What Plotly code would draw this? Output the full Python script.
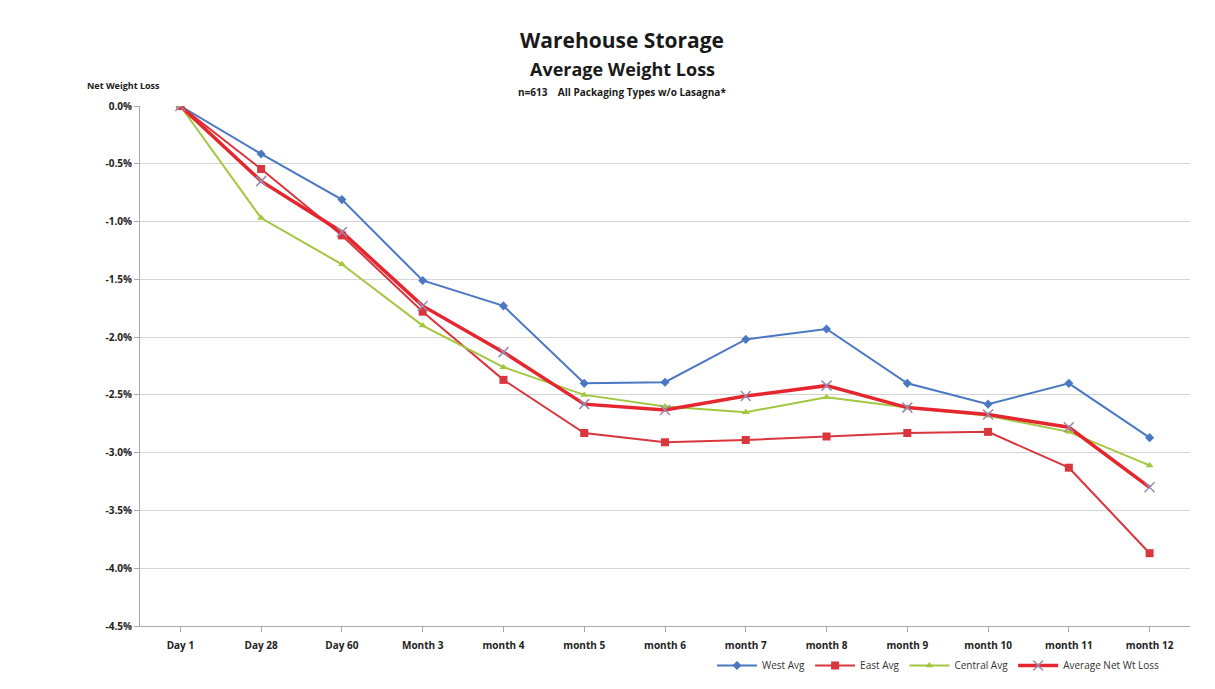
import plotly.graph_objects as go

categories = ["Day 1", "Day 28", "Day 60", "Month 3", "month 4", "month 5", "month 6",
              "month 7", "month 8", "month 9", "month 10", "month 11", "month 12"]
west_avg = [0.0, -0.415, -0.81, -1.51, -1.73, -2.40, -2.39, -2.02, -1.93, -2.40, -2.58, -2.40, -2.87]
east_avg = [0.0, -0.545, -1.12, -1.78, -2.37, -2.83, -2.91, -2.89, -2.86, -2.83, -2.82, -3.13, -3.87]
central_avg = [0.0, -0.97, -1.37, -1.90, -2.26, -2.50, -2.60, -2.65, -2.52, -2.61, -2.68, -2.82, -3.11]
average_net = [0.0, -0.65, -1.09, -1.73, -2.13, -2.58, -2.63, -2.51, -2.42, -2.61, -2.67, -2.78, -3.30]

y_ticks = [0, -0.5, -1.0, -1.5, -2.0, -2.5, -3.0, -3.5, -4.0, -4.5]
y_tick_text = ["<b>%.1f%%</b>" % v for v in y_ticks]
x_tick_text = ["<b>%s</b>" % c for c in categories]

FONT = "Open Sans"

# page and plot-area geometry in pixels
W, H = 1215, 689
PL, PR, PT, PB = 140, 25, 106, 63
PW, PH = W - PL - PR, H - PT - PB


def px_x(x):
    return (x - PL) / PW


def px_y(y):
    return (H - PB - y) / PH


fig = go.Figure()
fig.add_trace(go.Scatter(
    x=categories, y=west_avg, name="West Avg", mode="lines+markers",
    line=dict(color="#4A78C2", width=2),
    marker=dict(symbol="diamond", size=7, color="#4A78C2")))
fig.add_trace(go.Scatter(
    x=categories, y=east_avg, name="East Avg", mode="lines+markers",
    line=dict(color="#D9363E", width=2),
    marker=dict(symbol="square", size=8, color="#D9363E")))
fig.add_trace(go.Scatter(
    x=categories, y=central_avg, name="Central Avg", mode="lines+markers",
    line=dict(color="#A3C73F", width=2),
    marker=dict(symbol="triangle-up", size=7, color="#A3C73F")))
fig.add_trace(go.Scatter(
    x=categories, y=average_net, name="Average Net Wt Loss", mode="lines+markers",
    line=dict(color="#E5262E", width=3.5),
    marker=dict(symbol="x-thin", size=10, line=dict(color="#9A8AAE", width=1.5), color="#9A8AAE")))

fig.update_layout(
    width=W, height=H,
    paper_bgcolor="white", plot_bgcolor="white",
    margin=dict(l=PL, r=PR, t=PT, b=PB, autoexpand=False),
    font=dict(family=FONT, size=10, color="#222"),
    showlegend=True,
    legend=dict(orientation="h", x=712 / W, y=1 - 651 / H, xref="container", yref="container",
                xanchor="left", yanchor="top",
                font=dict(size=10, color="#333"), itemwidth=40, tracegroupgap=0,
                bgcolor="rgba(0,0,0,0)"),
    xaxis=dict(type="category", showgrid=False, showline=True, linecolor="#A8A8A8",
               ticks="outside", ticklen=5, tickcolor="#A8A8A8",
               tickvals=categories, ticktext=x_tick_text, ticklabelstandoff=5,
               tickfont=dict(size=10, family=FONT, color="#222"),
               range=[-0.5, 12.5]),
    yaxis=dict(range=[-4.5, 0], tickvals=y_ticks, ticktext=y_tick_text,
               showgrid=True, gridcolor="#D4D4D4", gridwidth=1,
               showline=True, linecolor="#A8A8A8", ticks="outside", ticklen=5,
               tickcolor="#A8A8A8", zeroline=False,
               tickfont=dict(size=10, family=FONT, color="#222")),
    annotations=[
        dict(text="<b>Warehouse Storage</b>", x=px_x(622), y=px_y(40),
             xref="paper", yref="paper", xanchor="center", yanchor="middle",
             showarrow=False, font=dict(size=21, family=FONT, color="#1a1a1a")),
        dict(text="<b>Average Weight Loss</b>", x=px_x(622), y=px_y(69),
             xref="paper", yref="paper", xanchor="center", yanchor="middle",
             showarrow=False, font=dict(size=18, family=FONT, color="#1a1a1a")),
        dict(text="<b>n=613&nbsp;&nbsp;&nbsp;&nbsp;All Packaging Types w/o Lasagna*</b>",
             x=px_x(622), y=px_y(92), xref="paper", yref="paper",
             xanchor="center", yanchor="middle",
             showarrow=False, font=dict(size=10, family=FONT, color="#1a1a1a")),
        dict(text="<b>Net Weight Loss</b>", x=px_x(85), y=px_y(86),
             xref="paper", yref="paper", xanchor="left", yanchor="middle",
             showarrow=False, font=dict(size=9, family=FONT, color="#1a1a1a")),
    ],
)

fig.write_html("out.html")
